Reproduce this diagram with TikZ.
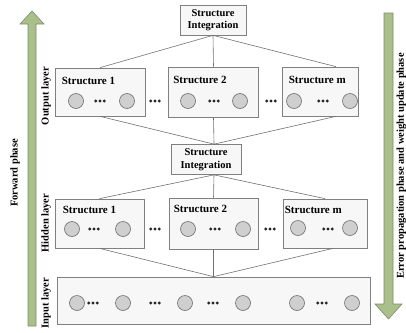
\documentclass[tikz,border=0pt]{standalone}
\usepackage{fontspec}
\setmainfont{Liberation Serif}
\usetikzlibrary{positioning}
\definecolor{cborde}{HTML}{808080}
\definecolor{cfondo}{HTML}{F7F7F7}
\definecolor{cneurona}{HTML}{CFCFCF}
\definecolor{cgris}{HTML}{6E6E6E}
\definecolor{clinea}{HTML}{707070}
\definecolor{cflecha}{HTML}{A9C08A}
\definecolor{cflechab}{HTML}{7D8C6C}
\tikzset{
  caja/.style={rectangle, draw=cborde, fill=cfondo, line width=0.7pt, inner sep=0pt},
  integ/.style={caja, minimum width=66pt, minimum height=30pt, align=center,
    font=\bfseries\fontsize{10.5}{12.5}\selectfont},
  etq/.style={font=\bfseries\fontsize{11}{12}\selectfont, inner sep=0pt, anchor=north west},
  neurona/.style={circle, draw=cgris, fill=cneurona, line width=0.6pt,
    minimum size=15pt, inner sep=0pt},
  linea/.style={draw=clinea, line width=0.6pt},
  capa/.style={rotate=90, font=\bfseries\fontsize{10.5}{12}\selectfont, inner sep=0pt},
  fase/.style={fill=cflecha, draw=cflechab, line width=0.6pt},
  puntos/.pic={\foreach \dx in {-4.2,0,4.2} \fill[black!85] (\dx,0) circle (1.6pt);},
}

\begin{document}
\begin{tikzpicture}[x=1pt, y=-1pt]
  \useasboundingbox (0,0) rectangle (406,332);

  % phase arrows
  \draw[fase] (28,326) -- (28,24) -- (20,24) -- (32,11) -- (44,24) -- (36,24) -- (36,326) -- cycle;
  \draw[fase] (384,13) -- (384,304) -- (375,304) -- (388.5,319) -- (402,304) -- (393,304) -- (393,13) -- cycle;
  \node[capa] (fwd) at (15,173) {Forward phase};
  \node[capa] (bwd) at (401.5,166) {Error propagation phase and weight update phase};

  % integration boxes
  \node[integ] (int1) at (213,20) {Structure\\Integration};
  \node[integ, minimum width=70pt] (int2) at (206,159.5) {Structure\\Integration};

  % output layer
  \node[caja, minimum width=90pt, minimum height=48pt] (s1) at (100,92) {};
  \node[caja, minimum width=90pt, minimum height=50pt] (s2) at (213.5,92) {};
  \node[caja, minimum width=76pt, minimum height=49pt] (sm) at (320,91.5) {};
  \node[etq] at ([xshift=7pt,yshift=-9pt]s1.north west) {Structure 1};
  \node[etq] at ([xshift=5pt,yshift=-9pt]s2.north west) {Structure 2};
  \node[etq] at ([xshift=7pt,yshift=-9pt]sm.north west) {Structure m};
  \node[neurona] (o11) at (76,101) {};
  \node[neurona] (o12) at (127,101) {};
  \node[neurona] (o21) at (188,101) {};
  \node[neurona] (o22) at (240,101) {};
  \node[neurona] (om1) at (294,101) {};
  \node[neurona] (om2) at (350,101) {};
  \foreach \x in {100,155,214,271,323} \pic at (\x,101) {puntos};

  % hidden layer
  \node[caja, minimum width=89pt, minimum height=49pt] (h1) at (99.5,223.5) {};
  \node[caja, minimum width=89pt, minimum height=51pt] (h2) at (213.5,223.5) {};
  \node[caja, minimum width=84pt, minimum height=49pt] (hm) at (325,223.5) {};
  \node[etq] at ([xshift=8pt,yshift=-7pt]h1.north west) {Structure 1};
  \node[etq] at ([xshift=5pt,yshift=-7pt]h2.north west) {Structure 2};
  \node[etq] at ([xshift=2pt,yshift=-7pt]hm.north west) {Structure m};
  \node[neurona] (h11) at (72,229) {};
  \node[neurona] (h12) at (123,229) {};
  \node[neurona] (h21) at (188,229) {};
  \node[neurona] (h22) at (243,229) {};
  \node[neurona] (hm1) at (298,228) {};
  \node[neurona] (hm2) at (350,228) {};
  \foreach \x in {94,155,215,270,328} \pic at (\x,229) {puntos};

  % input layer
  \node[caja, minimum width=313pt, minimum height=47pt] (inp) at (213.5,300.5) {};
  \foreach \x [count=\i] in {77,123,185,243,297,352}
    \node[neurona] (x\i) at (\x,303) {};
  \foreach \x in {93,155,213,322} \pic at (\x,303) {puntos};

  \node[capa] (lout) at (46,96) {Output layer};
  \node[capa] (lhid) at (46,223) {Hidden layer};
  \node[capa] (linp) at (46,303) {Input layer};

  % connections between layers
  \foreach \b in {s1,s2} \draw[linea] (int1.south) -- (\b.north);
  \draw[linea] (int1.south) -- ([xshift=16pt]sm.north);
  \foreach \b in {s1,s2} \draw[linea] (\b.south) -- ([xshift=8pt]int2.north);
  \draw[linea] ([xshift=16pt]sm.south) -- ([xshift=8pt]int2.north);
  \foreach \b in {h1,h2,hm} \draw[linea] ([xshift=8pt]int2.south) -- (\b.north);
  \foreach \b in {h1,h2} \draw[linea] (\b.south) -- (inp.north);
  \draw[linea] ([xshift=8pt]hm.south) -- (inp.north);
\end{tikzpicture}
\end{document}
